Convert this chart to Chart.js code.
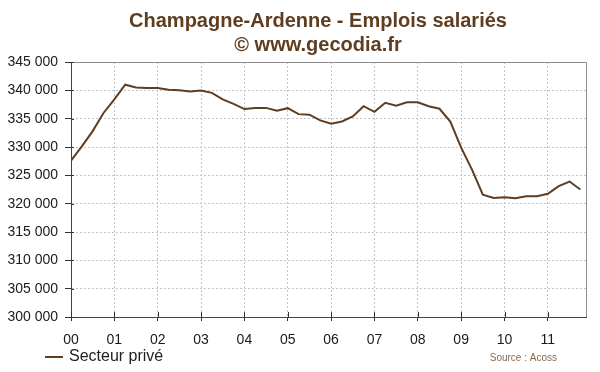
<!DOCTYPE html>
<html>
<head>
<meta charset="utf-8">
<script src="https://cdn.jsdelivr.net/npm/chart.js@4.4.1/dist/chart.umd.min.js"></script>
<style>
  html, body { margin: 0; padding: 0; background: #fff; }
</style>
</head>
<body>
<canvas id="chart" width="600" height="372"></canvas>
<script>
const titleLines = ['Champagne-Ardenne - Emplois salariés', '© www.gecodia.fr'];
const seriesLabel = 'Secteur privé';
const sourceText = 'Source : Acoss';
const yearLabels = ['00', '01', '02', '03', '04', '05', '06', '07', '08', '09', '10', '11'];
const quartersPerYear = 4;

// quarterly values, 2000 T1 -> 2011 T4
const emplois = [
    327600, 330100, 332800, 336000,
    338400, 341000, 340500, 340400,
    340400, 340100, 340000, 339800,
    339950, 339550, 338400, 337600,
    336700, 336900, 336900, 336400,
    336850, 335800, 335700, 334700,
    334100, 334500, 335400, 337200,
    336200, 337800, 337300, 337900,
    337900, 337200, 336750, 334500,
    329900, 326000, 321600, 321000,
    321150, 320950, 321300, 321300,
    321750, 323100, 323900, 322500
];

const brown = '#5e3d20';
const fontFamily = '"Liberation Sans", Arial, sans-serif';
Chart.defaults.font.family = fontFamily;

const formatThousands = (v) => String(v).replace(/\B(?=(\d{3})+(?!\d))/g, ' ');

// title (centred a bit left of the plot), frame, inner half of the tick crosses, legend and source
const decorations = {
    id: 'decorations',
    afterDraw(chart) {
        const { ctx, chartArea: a, scales: { x, y } } = chart;
        ctx.save();

        ctx.fillStyle = brown;
        ctx.font = 'bold 20px ' + fontFamily;
        ctx.textAlign = 'center';
        ctx.textBaseline = 'middle';
        titleLines.forEach((line, i) => ctx.fillText(line, 318, 21 + i * 24));

        ctx.strokeStyle = '#8c8c8c';
        ctx.lineWidth = 1;
        ctx.beginPath();
        ctx.moveTo(a.left, Math.round(a.top) + 0.5);
        ctx.lineTo(Math.round(a.right) + 0.5, Math.round(a.top) + 0.5);
        ctx.lineTo(Math.round(a.right) + 0.5, a.bottom);
        ctx.stroke();

        ctx.strokeStyle = '#333';
        ctx.beginPath();
        x.ticks.forEach((t, i) => {
            const px = Math.round(x.getPixelForTick(i)) + 0.5;
            ctx.moveTo(px, a.bottom);
            ctx.lineTo(px, a.bottom - 5);
        });
        y.ticks.forEach((t, i) => {
            const py = Math.round(y.getPixelForTick(i)) + 0.5;
            ctx.moveTo(a.left, py);
            ctx.lineTo(a.left + 3, py);
        });
        ctx.stroke();

        const ds = chart.data.datasets[0];
        const ly = a.bottom + 40;
        ctx.strokeStyle = ds.borderColor;
        ctx.lineWidth = 2;
        ctx.beginPath();
        ctx.moveTo(45, ly);
        ctx.lineTo(63, ly);
        ctx.stroke();

        ctx.fillStyle = '#222';
        ctx.font = '16px ' + fontFamily;
        ctx.textAlign = 'left';
        ctx.fillText(ds.label, 69, ly);

        ctx.fillStyle = '#8a6a4e';
        ctx.font = '10px ' + fontFamily;
        ctx.textAlign = 'right';
        ctx.fillText(sourceText, a.right - 29, ly + 1);

        ctx.restore();
    }
};

new Chart(document.getElementById('chart').getContext('2d'), {
    type: 'line',
    data: {
        datasets: [{
            label: seriesLabel,
            data: emplois.map((v, i) => ({ x: i / quartersPerYear, y: v })),
            borderColor: brown,
            borderWidth: 2,
            pointRadius: 0,
            tension: 0,
            fill: false
        }]
    },
    options: {
        responsive: false,
        devicePixelRatio: 1,
        animation: false,
        layout: {
            padding: { left: 5, right: 14, top: 62, bottom: 25 }
        },
        scales: {
            x: {
                type: 'linear',
                min: 0,
                max: 11.88,
                afterFit: (scale) => { scale.height = 30; },
                ticks: {
                    stepSize: 1,
                    includeBounds: false,
                    autoSkip: false,
                    maxRotation: 0,
                    padding: 11,
                    color: '#1a1a1a',
                    font: { size: 14 },
                    callback: (v) => yearLabels[v]
                },
                grid: {
                    color: '#c4c4c4',
                    tickColor: '#333',
                    tickLength: 4
                },
                border: { color: '#444', dash: [2, 2] }
            },
            y: {
                min: 300000,
                max: 345000,
                afterFit: (scale) => { scale.width = 66; },
                ticks: {
                    stepSize: 5000,
                    padding: 7,
                    color: '#1a1a1a',
                    font: { size: 14 },
                    callback: (v) => formatThousands(v)
                },
                grid: {
                    color: '#c4c4c4',
                    tickColor: '#333',
                    tickLength: 6
                },
                border: { color: '#444', dash: [2, 2] }
            }
        },
        plugins: {
            legend: { display: false },
            tooltip: { enabled: false },
            title: { display: false }
        }
    },
    plugins: [decorations]
});
</script>
</body>
</html>
